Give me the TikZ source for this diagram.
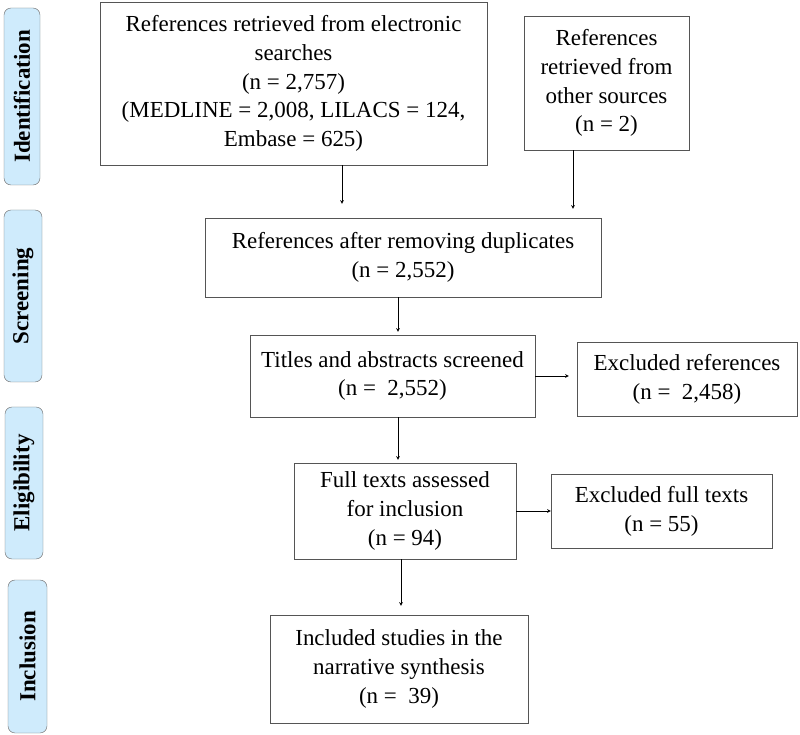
\documentclass[tikz,border=0pt]{standalone}
\usepackage{fontspec}
\setmainfont{Liberation Serif}
\definecolor{stagefill}{RGB}{207,235,252}
\definecolor{stageline}{RGB}{110,110,110}
\definecolor{boxline}{RGB}{85,85,85}
\newlength\pxu
\setlength\pxu{0.03cm}
\begin{document}
\begin{tikzpicture}[x=1\pxu, y=-1\pxu,
	box/.style={draw=boxline, align=center, inner sep=2pt, font=\fontsize{19.6}{24.6}\selectfont},
	stage/.style={draw=stageline, fill=stagefill, rounded corners=6pt, rotate=90, inner sep=0pt,
		font=\fontsize{19.6}{24}\selectfont\bfseries}]
	\useasboundingbox (0,0) rectangle (800,735);

	\node[stage, minimum width=177\pxu, minimum height=36\pxu] (ident)  at (22,96.5)  {Identification};
	\node[stage, minimum width=172\pxu, minimum height=38\pxu] (screen) at (23,296)   {Screening};
	\node[stage, minimum width=152\pxu, minimum height=38\pxu] (elig)   at (24,483)   {Eligibility};
	\node[stage, minimum width=153\pxu, minimum height=39\pxu] (incl)   at (27.5,656.5) {Inclusion};

	\node[box, minimum width=387\pxu, minimum height=163\pxu] (elec)   at (293.5,83.5) {References retrieved from electronic\\searches\\(n = 2,757)\\(MEDLINE = 2,008, LILACS = 124,\\Embase = 625)};
	\node[box, minimum width=165\pxu, minimum height=134\pxu] (other)  at (606.5,83)   {References\\retrieved from\\other sources\\(n = 2)};
	\node[box, minimum width=396\pxu, minimum height=79\pxu]  (dedup)  at (403,257.5)  {References after removing duplicates\\(n = 2,552)};
	\node[box, minimum width=285\pxu, minimum height=82\pxu]  (titles) at (392.5,376)  {Titles and abstracts screened\\(n =~ 2,552)};
	\node[box, minimum width=220\pxu, minimum height=74\pxu]  (exref)  at (687,379)    {Excluded references\\(n =~ 2,458)};
	\node[box, minimum width=222\pxu, minimum height=96\pxu]  (full)   at (405,511)    {Full texts assessed\\for inclusion\\(n = 94)};
	\node[box, minimum width=221\pxu, minimum height=74\pxu]  (exfull) at (661.5,511)  {Excluded full texts\\(n = 55)};
	\node[box, minimum width=258\pxu, minimum height=108\pxu] (study)  at (399,669)    {Included studies in the\\narrative synthesis\\(n =~ 39)};

	% x positions of the vertical arrows
	\coordinate (a1) at (342,0);
	\coordinate (a2) at (573,0);
	\coordinate (a3) at (398,0);
	\coordinate (a4) at (401,0);

	\path [->, >=stealth, shorten >=14\pxu] (elec.south -| a1)   edge (dedup.north -| a1);
	\path [->, >=stealth, shorten >=9\pxu]  (other.south -| a2)  edge (dedup.north -| a2);
	\path [->, >=stealth, shorten >=3\pxu]  (dedup.south -| a3)  edge (titles.north -| a3);
	\path [->, >=stealth, shorten >=8\pxu]  (titles.east)        edge (exref.west |- titles.east);
	\path [->, >=stealth, shorten >=3\pxu]  (titles.south -| a3) edge (full.north -| a3);
	\path [->, >=stealth]                   (full.east)          edge (exfull.west);
	\path [->, >=stealth, shorten >=9\pxu]  (full.south -| a4)   edge (study.north -| a4);
\end{tikzpicture}
\end{document}
